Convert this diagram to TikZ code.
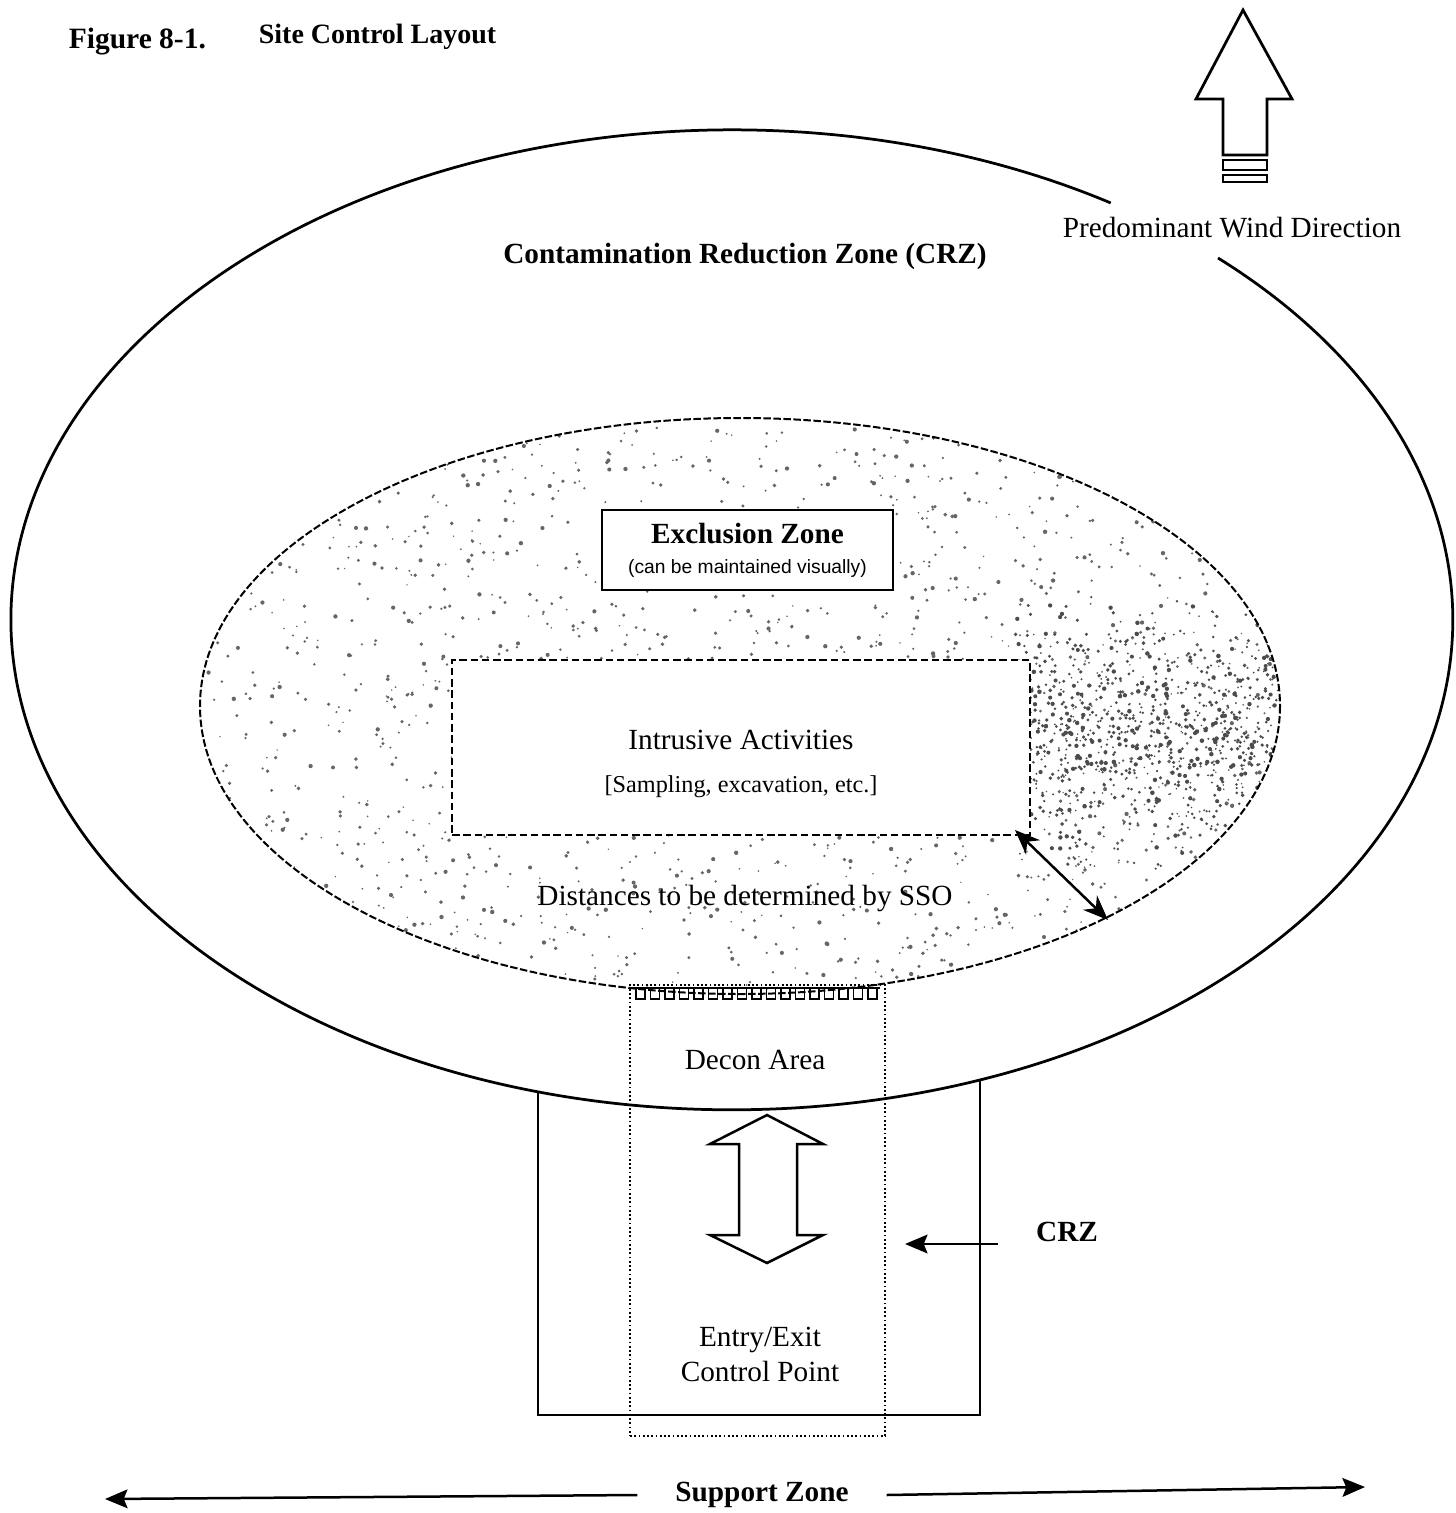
\documentclass[tikz,border=0pt]{standalone}
\usepackage{fontspec}
\setmainfont{Liberation Serif}
\newfontfamily\arialfont{Liberation Sans}
\usetikzlibrary{arrows.meta}

\begin{document}
\begin{tikzpicture}[x=0.4pt,y=-0.4pt,line join=miter,
  font=\fontsize{11.7}{14}\selectfont,
  zone/.style={line width=1.1pt},
  ezone/.style={line width=0.8pt,dash pattern=on 3pt off 1pt},
  box/.style={draw,fill=white,line width=0.8pt,inner sep=0pt},
  blockarrow/.style={draw,fill=white,line width=1.1pt},
  label/.style={font=\bfseries\fontsize{11.7}{14}\selectfont},
  tip/.style={-{Stealth[length=9pt,width=7.5pt,inset=1.5pt]}},
  ]
  \useasboundingbox (0,0) rectangle (1455,1513);

  \node[anchor=base west,font=\bfseries\fontsize{11.8}{13}\selectfont] (fig) at (60,48) {Figure 8-1.};
  \node[anchor=base west,font=\bfseries\fontsize{11.2}{13}\selectfont] (title) at (250,43) {Site Control Layout};

  % wind arrow
  \draw[blockarrow] (1243,10) -- (1292,99) -- (1267,99) -- (1267,155) -- (1223,155)
    -- (1223,99) -- (1196,99) -- cycle;
  \draw[blockarrow] (1223,160) rectangle (1267,170);
  \draw[blockarrow] (1223,175) rectangle (1267,182);
  \node (wind) at (1232,228) {Predominant Wind Direction};

  % CRZ ellipse, open behind the wind label
  \draw[zone] (1218,258) arc[start angle=-47.6,end angle=301.7,x radius=721,y radius=490];
  \node[label] (crzname) at (745,256) {Contamination Reduction Zone (CRZ)};

  % exclusion zone stipple
  \begin{scope}
    \clip (740,706) ellipse[x radius=540,y radius=288];
    \pgfmathsetseed{42}
    \foreach \i in {1,...,1500}{
      \pgfmathsetmacro\ra{360*rnd}
      \pgfmathsetmacro\rr{sqrt(rnd)}
      \pgfmathsetmacro\rs{0.8+1.4*rnd}
      \fill[black!60] ({740+540*\rr*cos(\ra)},{706+288*\rr*sin(\ra)}) circle[radius=\rs];
    }
    \foreach \i in {1,...,1000}{
      \pgfmathsetmacro\rx{1285-270*rnd}
      \pgfmathsetmacro\ry{735+140*(rnd+rnd-1)}
      \pgfmathsetmacro\rs{0.8+1.5*rnd}
      \fill[black!70] (\rx,\ry) circle[radius=\rs];
    }
  \end{scope}
  \draw[ezone] (740,706) ellipse[x radius=540,y radius=288];

  \node[box,minimum width=116.4pt,minimum height=32pt,align=center] (excl) at (747.5,550)
    {\textbf{Exclusion Zone}\\[-2pt]{\arialfont\fontsize{7.7}{9}\selectfont (can be maintained visually)}};

  \node[box,dash pattern=on 3pt off 1.5pt,minimum width=231.2pt,minimum height=70pt] (intr) at (741,747.5) {};
  \node (intrt) at (741,740) {Intrusive Activities};
  \node[font=\fontsize{9.7}{12}\selectfont] (samp) at (741,787) {[Sampling, excavation, etc.]};

  \node (dist) at (745,898) {Distances to be determined by SSO};
  \coordinate (da) at (1015,830);
  \coordinate (db) at (1108,920);
  \draw[line width=1pt,{Stealth[length=10pt,width=8pt]}-{Stealth[length=10pt,width=8pt]}] (da) -- (db);

  % support zone box below the CRZ
  \draw[line width=1pt] (538,1092) -- (538,1415) -- (980,1415) -- (980,1080);

  % decon area
  \node[draw,densely dotted,line width=0.7pt,minimum width=102pt,minimum height=180.4pt] (decon) at (757.5,1210.5) {};
  \draw[line width=0.8pt] (632,988) -- (880,988);
  \foreach \k in {0,...,16}
    \draw[line width=0.7pt] ({636+14.5*\k},988) -- ++(0,11) -- ++(9,0) -- ++(0,-11);
  \node (decont) at (755,1060) {Decon Area};

  \draw[blockarrow,line width=1pt] (767,1115) -- (823,1144) -- (797,1144) -- (797,1235) -- (823,1235)
    -- (767,1263) -- (710,1235) -- (739,1235) -- (739,1144) -- (710,1144) -- cycle;

  \node[align=center] (entry) at (760,1354) {Entry/Exit\\Control Point};

  \node[label] (crz) at (1067,1232) {CRZ};
  \coordinate (crzt) at (998,1244);
  \coordinate (crzh) at (905,1244);
  \draw[line width=1pt,tip] (crzt) -- (crzh);

  \node[label,inner xsep=15pt] (sz) at (762,1495) {Support Zone};
  \coordinate (szl) at (105,1499);
  \coordinate (szr) at (1365,1487);
  \draw[line width=1pt,tip] (sz.west) -- (szl);
  \draw[line width=1pt,tip] (sz.east) -- (szr);
\end{tikzpicture}
\end{document}
